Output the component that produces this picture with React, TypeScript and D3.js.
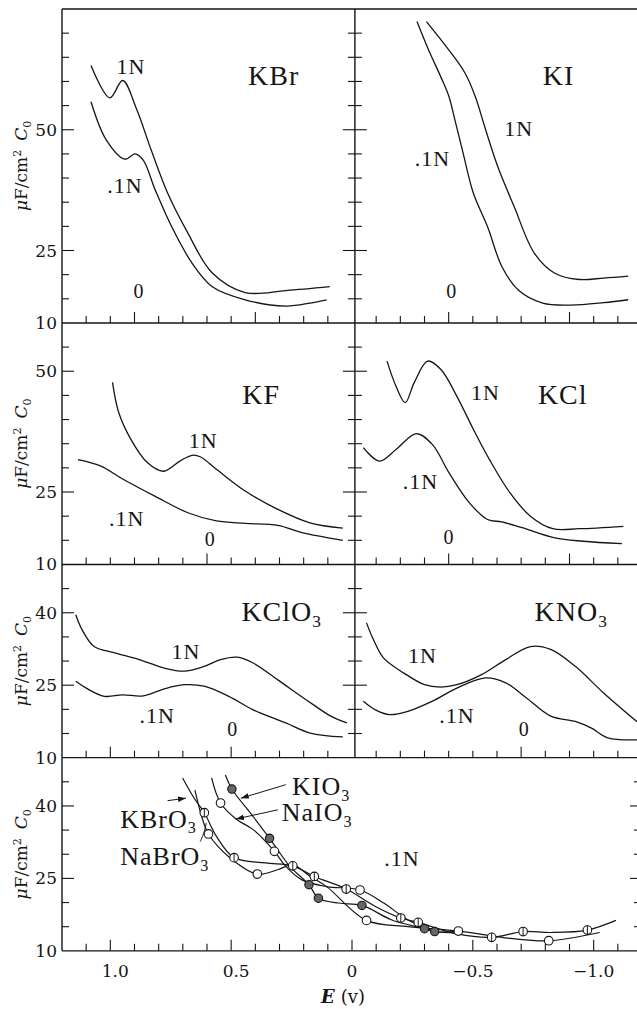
import React from 'react';
import * as d3 from 'd3';

const W = 637;
const H = 1009;

// potential axis (volts), shared by every panel
const eTicks = d3.range(11, -12, -1).map(d => d / 10);
const eLabels = [1.0, 0.5, 0, -0.5, -1.0];

// rows: top of each capacity axis, labelled values, long ticks on the bottom axis
const rowMax = [75, 60, 50, 50];
const rowLabels = [[10, 25, 50], [10, 25, 50], [10, 25, 40], [10, 25, 40]];
const rowMajor = [[0.9, 0.4, -0.4, -0.9], [0.6, -0.4, -0.9], [1.0, 0.5, -0.7], [1.0, 0.5, 0, -0.5, -1.0]];

// [E, C] pairs
const kbr1N = [[1.08, 63.3], [1.002, 56.6], [0.949, 60.2], [0.89, 54.1], [0.831, 45.8], [0.763, 36.9], [0.679, 28.6], [0.579, 20.4], [0.442, 16.3], [0.274, 16.7], [0.092, 17.5]];
const kbr01N = [[1.08, 55.8], [1.017, 47.9], [0.94, 43.9], [0.898, 45.0], [0.864, 43.7], [0.814, 37.5], [0.746, 29.9], [0.662, 22.4], [0.578, 17.5], [0.442, 14.8], [0.274, 13.5], [0.174, 14.1], [0.105, 14.8]];
const ki1N = [[-0.308, 72.4], [-0.401, 66.5], [-0.468, 61.7], [-0.51, 56.9], [-0.553, 50.0], [-0.603, 42.4], [-0.671, 34.1], [-0.755, 24.4], [-0.839, 20.3], [-0.94, 19.0], [-1.042, 19.3], [-1.143, 19.7]];
const ki01N = [[-0.269, 72.4], [-0.317, 66.5], [-0.367, 61.0], [-0.401, 56.9], [-0.426, 52.0], [-0.46, 45.1], [-0.502, 36.9], [-0.561, 29.9], [-0.62, 21.7], [-0.688, 16.8], [-0.789, 14.1], [-0.907, 13.7], [-1.042, 14.2], [-1.143, 14.8]];
const kf1N = [[0.991, 47.7], [0.965, 41.4], [0.915, 35.9], [0.847, 31.1], [0.78, 29.3], [0.712, 31.4], [0.662, 32.6], [0.628, 32.3], [0.561, 29.7], [0.442, 25.2], [0.307, 21.4], [0.174, 18.6], [0.038, 17.5]];
const kf01N = [[1.134, 31.7], [1.041, 30.4], [0.949, 27.7], [0.814, 24.1], [0.679, 20.7], [0.561, 19.0], [0.442, 18.5], [0.307, 18.1], [0.207, 16.6], [0.038, 15.0]];
const kcl1N = [[-0.145, 52.1], [-0.182, 46.9], [-0.22, 43.5], [-0.257, 47.6], [-0.313, 52.1], [-0.367, 50.4], [-0.434, 44.8], [-0.502, 38.0], [-0.569, 31.7], [-0.654, 24.8], [-0.738, 20.0], [-0.831, 17.4], [-0.94, 17.4], [-1.123, 17.9]];
const kcl01N = [[-0.047, 34.2], [-0.114, 31.4], [-0.182, 33.8], [-0.266, 37.1], [-0.333, 34.8], [-0.401, 29.0], [-0.485, 22.8], [-0.561, 19.3], [-0.62, 18.8], [-0.704, 17.6], [-0.839, 15.5], [-0.957, 14.8], [-1.117, 14.3]];
const kclo31N = [[1.143, 39.6], [1.117, 36.5], [1.067, 33.0], [0.982, 31.7], [0.881, 30.3], [0.78, 28.6], [0.695, 27.9], [0.612, 28.9], [0.544, 30.3], [0.476, 30.8], [0.409, 29.6], [0.307, 26.1], [0.19, 22.0], [0.088, 18.6], [0.021, 17.2]];
const kclo301N = [[1.143, 25.8], [1.1, 24.4], [1.025, 22.7], [0.949, 23.0], [0.864, 22.8], [0.78, 24.2], [0.695, 25.1], [0.612, 24.8], [0.51, 22.7], [0.409, 19.9], [0.274, 17.2], [0.173, 15.1], [0.038, 14.3]];
const kno31N = [[-0.06, 37.9], [-0.089, 34.4], [-0.131, 30.6], [-0.215, 27.5], [-0.3, 25.1], [-0.367, 24.6], [-0.434, 25.1], [-0.536, 27.2], [-0.636, 30.3], [-0.738, 33.0], [-0.822, 32.4], [-0.924, 28.9], [-1.041, 23.4], [-1.185, 17.2]];
const kno301N = [[-0.047, 21.7], [-0.097, 19.9], [-0.156, 18.9], [-0.232, 19.6], [-0.333, 21.7], [-0.434, 24.4], [-0.552, 26.5], [-0.636, 25.5], [-0.721, 22.4], [-0.822, 18.6], [-0.924, 17.5], [-0.991, 16.1], [-1.059, 14.1], [-1.185, 13.7]];

// bottom panel, 0.1N: [E, C, measured point]
const kbro3 = [[0.701, 45.8, 0], [0.653, 41.6, 0], [0.611, 38.6, 1], [0.561, 33.7, 0], [0.488, 29.3, 1], [0.358, 28.2, 0], [0.245, 27.6, 1], [0.156, 25.4, 1], [0.024, 22.8, 1], [-0.097, 19.2, 0], [-0.202, 16.8, 1], [-0.274, 15.9, 1], [-0.434, 13.5, 0], [-0.578, 12.8, 1], [-0.708, 14.0, 1], [-0.822, 13.8, 0], [-0.974, 14.3, 1], [-1.092, 16.3, 0]];
const nabro3 = [[0.65, 43.3, 0], [0.62, 37.5, 0], [0.594, 34.2, 1], [0.51, 29.5, 0], [0.392, 25.9, 1], [0.308, 26.8, 0], [0.245, 27.8, 0], [0.173, 25.4, 0], [0.105, 23.3, 0], [-0.06, 16.3, 1], [-0.232, 15.0, 0], [-0.44, 14.1, 1], [-0.654, 12.6, 0], [-0.814, 12.1, 1], [-1.025, 13.8, 0]];
const naio3 = [[0.581, 45.8, 0], [0.544, 40.6, 1], [0.48, 37.3, 0], [0.409, 35.1, 0], [0.321, 30.6, 1], [0.274, 27.5, 0], [0.207, 24.7, 0], [0.105, 23.3, 0], [-0.033, 22.6, 1], [-0.131, 19.9, 0], [-0.232, 16.4, 0], [-0.342, 14.0, 0], [-0.44, 14.1, 0]];
const kio3 = [[0.524, 46.4, 0], [0.497, 43.5, 1], [0.409, 37.8, 0], [0.341, 33.3, 1], [0.257, 27.5, 0], [0.178, 23.7, 1], [0.139, 20.9, 1], [0.055, 19.9, 0], [-0.041, 19.4, 1], [-0.165, 16.4, 0], [-0.3, 14.6, 1], [-0.342, 14.0, 1], [-0.434, 13.7, 0]];

const curves = [
  { row: 0, data: kbr1N }, { row: 0, data: kbr01N }, { row: 0, data: ki1N }, { row: 0, data: ki01N },
  { row: 1, data: kf1N }, { row: 1, data: kf01N }, { row: 1, data: kcl1N }, { row: 1, data: kcl01N },
  { row: 2, data: kclo31N }, { row: 2, data: kclo301N }, { row: 2, data: kno31N }, { row: 2, data: kno301N },
];
const salts = [
  { data: kbro3, mark: 'bar' }, { data: nabro3, mark: 'open' },
  { data: naio3, mark: 'open' }, { data: kio3, mark: 'filled' },
];

const titles = [
  { row: 0, E: 0.324, v: 61.3, t: 'KBr' }, { row: 0, E: -0.855, v: 61.3, t: 'KI' },
  { row: 1, E: 0.376, v: 45.2, t: 'KF' }, { row: 1, E: -0.872, v: 45.2, t: 'KCl' },
  { row: 2, E: 0.291, v: 40.3, t: 'KClO', sub: '3' }, { row: 2, E: -0.907, v: 40.3, t: 'KNO', sub: '3' },
];
const concLabels = [
  { row: 0, E: 0.915, v: 63.1, t: '1N' }, { row: 0, E: 0.94, v: 38.6, t: '.1N' }, { row: 0, E: 0.881, v: 16.8, t: '0' },
  { row: 0, E: -0.69, v: 50.4, t: '1N' }, { row: 0, E: -0.333, v: 44.2, t: '.1N' }, { row: 0, E: -0.413, v: 16.8, t: '0' },
  { row: 1, E: 0.616, v: 35.7, t: '1N' }, { row: 1, E: 0.932, v: 19.7, t: '.1N' }, { row: 1, E: 0.587, v: 15.5, t: '0' },
  { row: 1, E: -0.552, v: 45.7, t: '1N' }, { row: 1, E: -0.283, v: 27.2, t: '.1N' }, { row: 1, E: -0.401, v: 15.9, t: '0' },
  { row: 2, E: 0.687, v: 32.0, t: '1N' }, { row: 2, E: 0.806, v: 18.9, t: '.1N' }, { row: 2, E: 0.493, v: 16.1, t: '0' },
  { row: 2, E: -0.291, v: 31.3, t: '1N' }, { row: 2, E: -0.434, v: 18.9, t: '.1N' }, { row: 2, E: -0.713, v: 16.1, t: '0' },
  { row: 3, E: -0.207, v: 29.3, t: '.1N' },
];
const saltLabels = [
  { E: 0.248, v: 42.3, t: 'KIO', sub: '3' }, { E: 0.291, v: 36.8, t: 'NaIO', sub: '3' },
  { E: 0.959, v: 35.5, t: 'KBrO', sub: '3' }, { E: 0.959, v: 27.8, t: 'NaBrO', sub: '3' },
];
const arrows = [
  [[0.274, 44.4], [0.46, 41.6]],
  [[0.307, 39.2], [0.48, 37.3]],
  [[0.763, 41.1], [0.687, 41.6]],
];
const connector = [[0.628, 32.6], [0.612, 34.6], [0.603, 36.5]];

const x = d3.scaleLinear().domain([1.2, -1.2]).range([62, 642]);
const PPU = 4.83;
const TOP = 9;
const DIV = x(-0.012);
const rows = rowMax.map((m, i) => {
  const top = TOP + d3.sum(rowMax.slice(0, i), d => (d - 10) * PPU);
  const bottom = top + (m - 10) * PPU;
  return { top, bottom, y: d3.scaleLinear().domain([10, m]).range([bottom, top]) };
});
const INK = '#151515';
const SERIF = '"Liberation Serif", "Times New Roman", serif';
const NUMF = '"DejaVu Serif", serif';

function lineFor(y) {
  return d3.line().x(d => x(d[0])).y(d => y(d[1])).curve(d3.curveCatmullRom.alpha(0.5));
}

function Chem({ x: px, y: py, t, sub, size, anchor }) {
  return (
    <text x={px} y={py} fontSize={size} fontFamily={SERIF} textAnchor={anchor} fill={INK} letterSpacing={1}>
      {t}
      {sub && <tspan dy={size * 0.22} fontSize={size * 0.62}>{sub}</tspan>}
    </text>
  );
}

function Marker({ cx, cy, kind }) {
  if (kind === 'filled') return <circle cx={cx} cy={cy} r={4.2} fill="#666" stroke={INK} strokeWidth={1.1} />;
  return (
    <g>
      <circle cx={cx} cy={cy} r={4.3} fill="#fff" stroke={INK} strokeWidth={1.1} />
      {kind === 'bar' && <line x1={cx} x2={cx} y1={cy - 4.3} y2={cy + 4.3} stroke={INK} strokeWidth={1} />}
    </g>
  );
}

export default function App() {
  const last = rows[rows.length - 1];
  return (
    <svg width={W} height={H} style={{ position: 'absolute', left: 0, top: 0, background: '#fff' }}>
      <defs>
        {rows.map((r, i) => (
          <clipPath id={`clip${i}`} key={i}>
            <rect x={x(1.2)} y={r.top} width={W - x(1.2)} height={r.bottom - r.top} />
          </clipPath>
        ))}
        <marker id="arr" viewBox="0 0 10 10" refX="10" refY="5" markerWidth="8" markerHeight="8" orient="auto" markerUnits="userSpaceOnUse">
          <path d="M0,1.5 L10,5 L0,8.5 z" fill={INK} />
        </marker>
      </defs>
      <rect width={W} height={H} fill="#fff" />

      {/* frame */}
      <g stroke={INK} strokeWidth={1.4} fill="none">
        <line x1={x(1.2)} x2={W} y1={TOP} y2={TOP} />
        <line x1={x(1.2)} x2={x(1.2)} y1={TOP} y2={last.bottom} />
        {rows.map((r, i) => <line key={i} x1={x(1.2)} x2={W} y1={r.bottom} y2={r.bottom} />)}
        <line x1={DIV} x2={DIV} y1={TOP} y2={rows[2].bottom} />
      </g>

      {rows.map((r, i) => {
        const vt = d3.range(15, rowMax[i], 5);
        return (
          <g key={i} stroke={INK} strokeWidth={1.1}>
            {vt.map(v => {
              const big = rowLabels[i].includes(v);
              return (
                <g key={v}>
                  <line x1={x(1.2)} x2={x(1.2) + (big ? 12 : 7)} y1={r.y(v)} y2={r.y(v)} />
                  {i < 3 && <line x1={DIV - (big ? 12 : 7)} x2={DIV + (big ? 12 : 7)} y1={r.y(v)} y2={r.y(v)} />}
                  {i === 3 && <line x1={x(-1.2) - (big ? 12 : 8)} x2={x(-1.2)} y1={r.y(v)} y2={r.y(v)} />}
                </g>
              );
            })}
            {eTicks.filter(e => i === 3 || Math.abs(e) > 0.01).map(e => {
              const big = rowMajor[i].some(m => Math.abs(m - e) < 0.01);
              return <line key={e} x1={x(e)} x2={x(e)} y1={r.bottom} y2={r.bottom - (big ? 11 : 7)} />;
            })}
          </g>
        );
      })}

      {/* capacity labels and axis titles */}
      {rows.map((r, i) => (
        <g key={i}>
          {rowLabels[i].map(v => (
            <text key={v} x={57} y={r.y(v) + 6} textAnchor="end" fontSize={17} fontFamily={NUMF} fill={INK}>{v}</text>
          ))}
          <text transform={`translate(27,${(r.top + r.bottom) / 2}) rotate(-90)`} textAnchor="middle" fontSize={17} fontFamily={NUMF} fill={INK}>
            <tspan fontStyle="italic">μ</tspan>F/cm<tspan dy={-6} fontSize={11}>2</tspan>
            <tspan dy={6} dx={9} fontStyle="italic">C</tspan><tspan dy={4} fontSize={11}>0</tspan>
          </text>
        </g>
      ))}

      {/* potential axis */}
      {eLabels.map(e => (
        <text key={e} x={x(e) + (e > 0 ? 5 : 0)} y={977} textAnchor="middle" fontSize={17} fontFamily={NUMF} fill={INK}>
          {e === 0 ? '0' : d3.format('.1f')(e).replace('-', '−')}
        </text>
      ))}
      <text x={343} y={1003} textAnchor="middle" fontSize={18} fontFamily={NUMF} fill={INK}>
        <tspan fontWeight="bold" fontStyle="italic">E</tspan>
        <tspan dx={6}>(v)</tspan>
      </text>

      {/* curves */}
      {curves.map((c, i) => (
        <path key={i} d={lineFor(rows[c.row].y)(c.data)} fill="none" stroke={INK} strokeWidth={1.3} clipPath={`url(#clip${c.row})`} />
      ))}
      {salts.map((s, i) => (
        <path key={i} d={lineFor(last.y)(s.data)} fill="none" stroke={INK} strokeWidth={1.2} clipPath="url(#clip3)" />
      ))}
      {salts.map((s, i) => (
        <g key={i}>
          {s.data.filter(d => d[2]).map((d, j) => <Marker key={j} cx={x(d[0])} cy={last.y(d[1])} kind={s.mark} />)}
        </g>
      ))}

      {/* labels */}
      {titles.map((l, i) => (
        <Chem key={i} x={x(l.E)} y={rows[l.row].y(l.v) + 10} t={l.t} sub={l.sub} size={28} anchor="middle" />
      ))}
      {concLabels.map((l, i) => (
        <text key={i} x={x(l.E)} y={rows[l.row].y(l.v) + 8} textAnchor="middle" fontSize={l.t === '0' ? 20 : 22} fontFamily={SERIF} fill={INK} letterSpacing={1}>{l.t}</text>
      ))}
      {saltLabels.map((l, i) => (
        <Chem key={i} x={x(l.E)} y={last.y(l.v)} t={l.t} sub={l.sub} size={26} anchor="start" />
      ))}
      {arrows.map((a, i) => (
        <line key={i} x1={x(a[0][0])} y1={last.y(a[0][1])} x2={x(a[1][0])} y2={last.y(a[1][1])} stroke={INK} strokeWidth={1} markerEnd="url(#arr)" />
      ))}
      <path d={lineFor(last.y)(connector)} fill="none" stroke={INK} strokeWidth={1} />
    </svg>
  );
}
